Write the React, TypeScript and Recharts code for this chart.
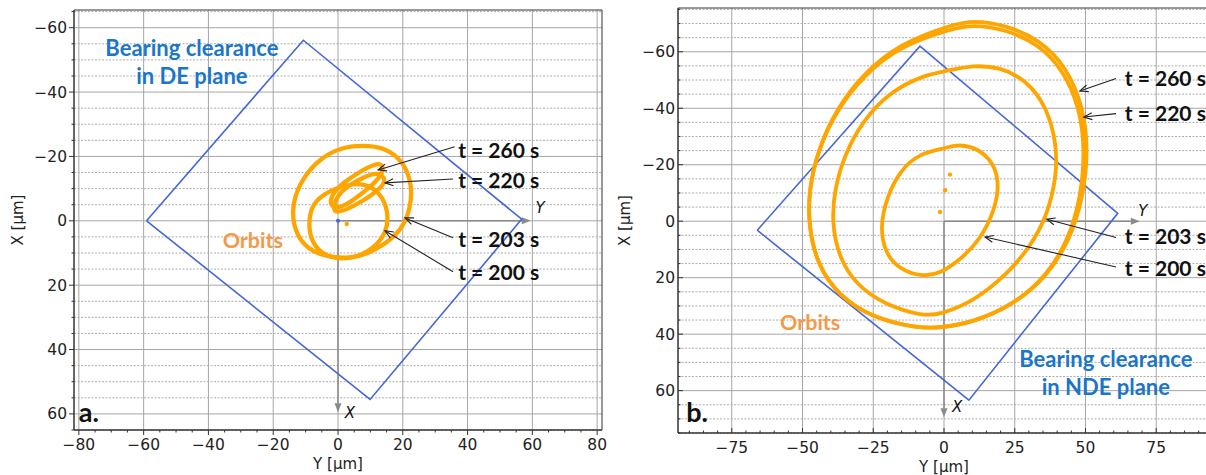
import React from 'react'
import {
  ComposedChart,
  Line,
  Scatter,
  XAxis,
  YAxis,
  CartesianGrid,
  ReferenceLine,
  ReferenceDot,
  ReferenceArea,
} from 'recharts'

// every point is [Y µm (horizontal), X µm (vertical, pointing down)]
type Pair = [number, number]

const steps = (from: number, to: number, step: number) => {
  const out: number[] = []
  for (let v = from; v <= to + 1e-9; v += step) out.push(v)
  return out
}

// ---------- a. DE plane ----------
const aYMajor = [-80, -60, -40, -20, 0, 20, 40, 60, 80]
const aXMajor = [-60, -40, -20, 0, 20, 40, 60]
const aYTicks = steps(-80, 80, 5)
const aXTicks = steps(-65, 65, 5)

const aClearance: Pair[] = [[-59.1, 0], [-10.7, -56.1], [56.7, -0.5], [9.9, 55.5]]

const aOrbit203: Pair[] = [
  [-14, 1.2], [-14, -6], [-10.8, -13.6], [-5.3, -19.6], [1.1, -22.8], [7.3, -23.5],
  [14.7, -22.8], [20.3, -18.3], [22.9, -11.2], [22.4, -3.9], [19.8, 2.6], [14.9, 7],
  [9.2, 10.2], [4.2, 11.7], [-4.2, 11.2], [-10.8, 7.9],
]
const aOrbit200: Pair[] = [
  [-9.2, 1.2], [-8.1, -5.3], [-3.2, -9.2], [2.5, -11.1], [7.6, -11.8], [13, -9],
  [15.6, -2.9], [15.1, 3.6], [10.8, 9], [3.2, 12.3], [-4.2, 11.1], [-8.1, 6.8],
]
const aOrbit220: Pair[] = [
  [-1.5, -3.3], [-0.5, -7.7], [3.3, -11], [8, -13.6], [12.4, -15.2], [15.2, -12.8],
  [12.5, -9.4], [7.7, -6.2], [3, -3.6], [-0.4, -2.6],
]
const aOrbit260: Pair[] = [
  [-2.6, -4.3], [-2, -8.3], [1.8, -12], [6.5, -15.1], [11.2, -17.7], [14.1, -17.7],
  [13.6, -14], [9.8, -10.4], [5.1, -6.7], [0.9, -4],
]
const aDots: Pair[] = [[2.7, 1]]

const aNotes = ['t = 260 s', 't = 220 s', 't = 203 s', 't = 200 s']

// ---------- b. NDE plane ----------
const bYMajor = [-75, -50, -25, 0, 25, 50, 75]
const bXMajor = [-60, -40, -20, 0, 20, 40, 60]
const bYTicks = steps(-90, 90, 5)
const bXTicks = steps(-75, 75, 5)

const bClearance: Pair[] = [[-66, 3.2], [-8.5, -62], [61.4, -2.8], [8.8, 63.4]]

const bOrbit200: Pair[] = [
  [-0.2, -25.7], [-8.5, -24], [-15.5, -18.1], [-20.2, -8.6], [-22.6, 2], [-20.8, 11.4],
  [-15.5, 17.3], [-7.3, 19.7], [-1.4, 18.5], [5.6, 13.8], [12.7, 6.7], [18, -3.9],
  [19.8, -14.5], [16.2, -22.8], [9.2, -26.9], [3.3, -26.9],
]
const bOrbit203: Pair[] = [
  [2.1, -53.5], [-7.3, -51.7], [-19.1, -45.8], [-28.5, -35.8], [-35, -24], [-38.8, -11],
  [-39.6, 0.8], [-37.2, 12.6], [-31.2, 22.5], [-20.5, 29.8], [-7.3, 33.6], [-1.4, 33],
  [10.3, 28.5], [22.1, 19], [30.4, 9.1], [36.3, -1.5], [39.8, -15.7], [39.8, -27.5],
  [36.3, -40.5], [29.2, -49.9], [19.8, -54.6], [10.3, -55.2],
]
const bOrbit220: Pair[] = [
  [2.1, -68], [-15.5, -62], [-28.5, -51.6], [-38.3, -38.8], [-44.6, -24.8], [-47.8, -11],
  [-47.8, 2], [-44.8, 15.3], [-37.4, 26.2], [-25.4, 34.2], [-9.6, 37.8], [-1.4, 37.8],
  [10.3, 35.8], [24.5, 29.6], [36.3, 19.4], [44, 6.5], [48.4, -8.6], [49.8, -25.1],
  [48, -40], [42.2, -53.6], [33.2, -62.8], [21.8, -67.9], [10.3, -69.7],
]
const bOrbit260: Pair[] = [
  [2.1, -69.4], [-15.5, -62.9], [-28.5, -52.3], [-38.3, -39.3], [-44.6, -25.1], [-47.8, -11],
  [-47.8, 2], [-44.8, 15.3], [-37.4, 26.2], [-25.4, 34.2], [-9.6, 37.8], [-1.4, 37.8],
  [10.3, 35.8], [24.5, 29.6], [36.3, 19.7], [44.5, 6.7], [49.2, -8.6], [51, -25.1],
  [49.2, -40.5], [43.3, -54.6], [33.9, -64.1], [22.1, -69.4], [10.3, -71.2],
]
const bDots: Pair[] = [[2.1, -16.5], [0.4, -11], [-1.4, -3.3]]

const bNotes = ['t = 260 s', 't = 220 s', 't = 203 s', 't = 200 s']

// ---------- drawing helpers ----------
const ORANGE = '#ffa500'
const BLUE_LINE = '#4466d8'
const BLUE_TEXT = '#1b75c9'
const ORANGE_TEXT = '#f4994a'
const TICK = 5
const GAP = 2
const TICK_FONT = 'DejaVu Sans, sans-serif'
const NOTE_FONT = 'Lato, "Open Sans", sans-serif'

const fmt = (v: number) => (v < 0 ? `\u2212${-v}` : `${v}`)
const toPts = (pairs: Pair[], close = false) => {
  const pts = pairs.map(([y, x]) => ({ y, x }))
  return close ? [...pts, pts[0]] : pts
}

function BottomTick(props: any) {
  const { x, y, payload, majors, inward } = props
  const v = payload.value
  const major = majors.includes(v)
  const axisY = y - TICK - GAP
  const len = major ? 5 : 2.5
  return (
    <g>
      <line x1={x} x2={x} y1={axisY} y2={inward ? axisY - len : axisY + len} stroke="#333" />
      {major && (
        <text x={x} y={axisY + 8} dy="0.76em" textAnchor="middle" fontFamily={TICK_FONT} fontSize={15.5} fill="#222">
          {fmt(v)}
        </text>
      )}
    </g>
  )
}

function LeftTick(props: any) {
  const { x, y, payload, majors, inward, labelGap } = props
  const v = payload.value
  const major = majors.includes(v)
  const axisX = x + TICK + GAP
  const len = major ? 5 : 2.5
  return (
    <g>
      <line x1={axisX} x2={inward ? axisX + len : axisX - len} y1={y} y2={y} stroke="#333" />
      {major && (
        <text x={axisX - labelGap} y={y} dy="0.36em" textAnchor="end" fontFamily={TICK_FONT} fontSize={15.5} fill="#222">
          {fmt(v)}
        </text>
      )}
    </g>
  )
}

// gray coordinate arrow with a filled head
function AxisArrow(props: any) {
  const { x1, y1, x2, y2 } = props
  const a = Math.atan2(y2 - y1, x2 - x1)
  const L = 9
  const W = 3.5
  const bx = x2 - L * Math.cos(a)
  const by = y2 - L * Math.sin(a)
  const head = `${x2},${y2} ${bx + W * Math.sin(a)},${by - W * Math.cos(a)} ${bx - W * Math.sin(a)},${by + W * Math.cos(a)}`
  return (
    <g>
      <line x1={x1} y1={y1} x2={bx} y2={by} stroke="#8a8a8a" strokeWidth={1.5} />
      <polygon points={head} fill="#8a8a8a" />
    </g>
  )
}

// thin black pointer with an open head
function Pointer(props: any) {
  const { x1, y1, x2, y2 } = props
  const a = Math.atan2(y2 - y1, x2 - x1)
  const L = 9
  const spread = 0.4
  const h1 = [x2 - L * Math.cos(a - spread), y2 - L * Math.sin(a - spread)]
  const h2 = [x2 - L * Math.cos(a + spread), y2 - L * Math.sin(a + spread)]
  return (
    <g stroke="#222" strokeWidth={1.1} fill="none">
      <line x1={x1} y1={y1} x2={x2} y2={y2} />
      <polyline points={`${h1[0]},${h1[1]} ${x2},${y2} ${h2[0]},${h2[1]}`} />
    </g>
  )
}

type Note = { text: string; at: Pair; from: Pair; to: Pair }
type Caption = { lines: string[]; at: Pair; color: string; size: number; anchor: 'start' | 'middle'; lineGap: number }

type PanelCfg = {
  width: number
  height: number
  margin: { top: number; right: number; bottom: number; left: number }
  xAxisHeight: number
  hDomain: [number, number]
  vDomain: [number, number]
  hTicks: number[]
  vTicks: number[]
  hMajor: number[]
  vMajor: number[]
  inward: boolean
  labelGap: number
  xTitleOffset: number
  yTitleOffset: number
  clearance: Pair[]
  orbits: Pair[][]
  orbitWidth: number
  dots: Pair[]
  originDot: boolean
  axisEnd: [number, number]
  axisLetters: { text: string; at: Pair }[]
  notes: Note[]
  captions: Caption[]
}

function Panel(p: PanelCfg) {
  const vMinor = p.vTicks.filter((v) => !p.vMajor.includes(v))
  return (
    <ComposedChart width={p.width} height={p.height} margin={p.margin}>
      <CartesianGrid horizontalValues={vMinor} vertical={false} stroke="#acacac" strokeDasharray="2 1.5" />
      <CartesianGrid horizontalValues={p.vMajor} verticalValues={p.hMajor} stroke="#a6a6a6" />
      <XAxis
        type="number"
        dataKey="y"
        domain={p.hDomain}
        allowDataOverflow
        ticks={p.hTicks}
        interval={0}
        tickLine={false}
        tickSize={TICK}
        tickMargin={GAP}
        height={p.xAxisHeight}
        axisLine={{ stroke: '#333' }}
        tick={(t: any) => <BottomTick {...t} majors={p.hMajor} inward={p.inward} />}
        label={{
          value: 'Y [µm]',
          position: 'insideBottom',
          offset: p.xTitleOffset,
          fill: '#222',
          fontSize: 15,
          fontFamily: TICK_FONT,
        }}
      />
      <YAxis
        type="number"
        dataKey="x"
        reversed
        domain={p.vDomain}
        allowDataOverflow
        ticks={p.vTicks}
        interval={0}
        tickLine={false}
        tickSize={TICK}
        tickMargin={GAP}
        width={60}
        axisLine={{ stroke: '#333' }}
        tick={(t: any) => <LeftTick {...t} majors={p.vMajor} inward={p.inward} labelGap={p.labelGap} />}
        label={{
          value: 'X [µm]',
          angle: -90,
          position: 'insideLeft',
          offset: p.yTitleOffset,
          fill: '#222',
          fontSize: 15,
          fontFamily: TICK_FONT,
          style: { textAnchor: 'middle' },
        }}
      />
      <ReferenceArea
        x1={p.hDomain[0]}
        x2={p.hDomain[1]}
        y1={p.vDomain[0]}
        y2={p.vDomain[1]}
        fill="none"
        stroke="#333"
        strokeWidth={1}
      />

      <ReferenceLine segment={[{ x: 0, y: 0 }, { x: p.axisEnd[0], y: 0 }]} shape={AxisArrow} />
      <ReferenceLine segment={[{ x: 0, y: 0 }, { x: 0, y: p.axisEnd[1] }]} shape={AxisArrow} />

      <Line
        data={toPts(p.clearance, true)}
        dataKey="x"
        type="linear"
        stroke={BLUE_LINE}
        strokeWidth={1.6}
        dot={false}
        activeDot={false}
        isAnimationActive={false}
      />
      {p.orbits.map((o, i) => (
        <Line
          key={`orbit-${i}`}
          data={toPts(o)}
          dataKey="x"
          type="basisClosed"
          stroke={ORANGE}
          strokeWidth={p.orbitWidth}
          dot={false}
          activeDot={false}
          isAnimationActive={false}
        />
      ))}
      <Scatter
        data={toPts(p.dots)}
        dataKey="x"
        isAnimationActive={false}
        shape={(s: any) => <circle cx={s.cx} cy={s.cy} r={2.2} fill={ORANGE} />}
      />
      {p.originDot && (
        <Scatter
          data={[{ y: 0, x: 0 }]}
          dataKey="x"
          isAnimationActive={false}
          shape={(s: any) => <circle cx={s.cx} cy={s.cy} r={2} fill={BLUE_LINE} />}
        />
      )}

      {p.notes.map((n, i) => (
        <ReferenceLine key={`ptr-${i}`} segment={[{ x: n.from[0], y: n.from[1] }, { x: n.to[0], y: n.to[1] }]} shape={Pointer} />
      ))}
      {p.notes.map((n, i) => (
        <ReferenceDot
          key={`note-${i}`}
          x={n.at[0]}
          y={n.at[1]}
          r={1}
          shape={(s: any) => (
            <text x={s.cx} y={s.cy} dy="0.36em" fontFamily={NOTE_FONT} fontWeight={700} fontSize={21} fill="#111">
              {n.text}
            </text>
          )}
        />
      ))}
      {p.axisLetters.map((l, i) => (
        <ReferenceDot
          key={`axl-${i}`}
          x={l.at[0]}
          y={l.at[1]}
          r={1}
          shape={(s: any) => (
            <text x={s.cx} y={s.cy} dy="0.36em" textAnchor="middle" fontFamily={TICK_FONT} fontStyle="italic" fontSize={15} fill="#111">
              {l.text}
            </text>
          )}
        />
      ))}
      {p.captions.map((c, i) => (
        <ReferenceDot
          key={`cap-${i}`}
          x={c.at[0]}
          y={c.at[1]}
          r={1}
          shape={(s: any) => (
            <text
              x={s.cx}
              y={s.cy}
              textAnchor={c.anchor}
              fontFamily={NOTE_FONT}
              fontWeight={700}
              fontSize={c.size}
              fill={c.color}
            >
              {c.lines.map((line, j) => (
                <tspan key={j} x={s.cx} dy={j === 0 ? '0.36em' : c.lineGap}>
                  {line}
                </tspan>
              ))}
            </text>
          )}
        />
      ))}
    </ComposedChart>
  )
}

const panelA: PanelCfg = {
  width: 610,
  height: 475,
  margin: { top: 10, right: 8, bottom: 0, left: 14 },
  xAxisHeight: 45,
  hDomain: [-81.5, 81.5],
  vDomain: [-65.5, 65],
  hTicks: aYTicks,
  vTicks: aXTicks,
  hMajor: aYMajor,
  vMajor: aXMajor,
  inward: false,
  labelGap: 7,
  xTitleOffset: 6.5,
  yTitleOffset: 4,
  clearance: aClearance,
  orbits: [aOrbit203, aOrbit200, aOrbit220, aOrbit260],
  orbitWidth: 4.3,
  dots: aDots,
  originDot: true,
  axisEnd: [59.5, 59.5],
  axisLetters: [
    { text: 'Y', at: [62.4, -4] },
    { text: 'X', at: [3.7, 59.5] },
  ],
  notes: [
    { text: aNotes[0], at: [37.1, -22], from: [36, -23], to: [12.4, -15.8] },
    { text: aNotes[1], at: [37.1, -12.4], from: [35.5, -13], to: [14.5, -11.8] },
    { text: aNotes[2], at: [37.1, 5.9], from: [35.5, 5.3], to: [20.7, -0.9] },
    { text: aNotes[3], at: [37.1, 16.1], from: [35.5, 15.8], to: [14.5, 3.1] },
  ],
  captions: [
    { lines: ['Bearing clearance', 'in DE plane'], at: [-45.1, -53.6], color: BLUE_TEXT, size: 22, anchor: 'middle', lineGap: 28 },
    { lines: ['Orbits'], at: [-26.3, 5.9], color: ORANGE_TEXT, size: 21.5, anchor: 'middle', lineGap: 0 },
    { lines: ['a.'], at: [-80, 59.5], color: '#111', size: 27, anchor: 'start', lineGap: 0 },
  ],
}

const panelB: PanelCfg = {
  width: 606,
  height: 475,
  margin: { top: 8, right: 6, bottom: 0, left: 8 },
  xAxisHeight: 42,
  hDomain: [-94, 94],
  vDomain: [-75.5, 75],
  hTicks: bYTicks,
  vTicks: bXTicks,
  hMajor: bYMajor,
  vMajor: bXMajor,
  inward: true,
  labelGap: 3,
  xTitleOffset: 3.5,
  yTitleOffset: 7,
  clearance: bClearance,
  orbits: [bOrbit200, bOrbit203, bOrbit220, bOrbit260],
  orbitWidth: 3.8,
  dots: bDots,
  originDot: false,
  axisEnd: [69.2, 69.4],
  axisLetters: [
    { text: 'Y', at: [70.3, -3.9] },
    { text: 'X', at: [4.6, 65.8] },
  ],
  notes: [
    { text: bNotes[0], at: [63.9, -50.6], from: [60.8, -50.5], to: [48, -46.1] },
    { text: bNotes[1], at: [63.9, -38.2], from: [60.8, -38.1], to: [49.4, -36.9] },
    { text: bNotes[2], at: [63.9, 5.3], from: [60.8, 5.8], to: [36.3, -0.7] },
    { text: bNotes[3], at: [63.9, 16.6], from: [60.8, 16.2], to: [14.5, 5.6] },
  ],
  captions: [
    { lines: ['Orbits'], at: [-47.3, 35.8], color: ORANGE_TEXT, size: 21.5, anchor: 'middle', lineGap: 0 },
    { lines: ['Bearing clearance', 'in NDE plane'], at: [57.2, 48.8], color: BLUE_TEXT, size: 22, anchor: 'middle', lineGap: 28 },
    { lines: ['b.'], at: [-91.1, 67.6], color: '#111', size: 27, anchor: 'start', lineGap: 0 },
  ],
}

export default function App() {
  return (
    <div
      style={{
        position: 'absolute',
        left: 0,
        top: 0,
        width: 1206,
        height: 475,
        overflow: 'hidden',
        background: '#fff',
      }}
    >
      <div style={{ position: 'absolute', left: 0, top: 0 }}>
        <Panel {...panelA} />
      </div>
      <div style={{ position: 'absolute', left: 610, top: 0 }}>
        <Panel {...panelB} />
      </div>
    </div>
  )
}
